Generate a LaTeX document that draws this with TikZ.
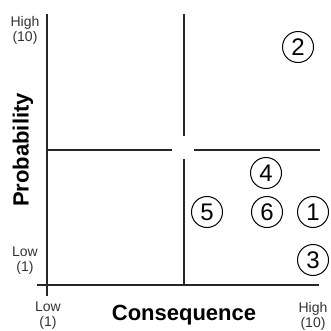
\documentclass[tikz,border=0pt]{standalone}
\usepackage{fontspec}
\setmainfont{Liberation Sans}
\usetikzlibrary{positioning}

\begin{document}
\begin{tikzpicture}[x=1pt, y=-1pt,
  axis/.style={line width=1.6pt, draw=black!85},
  divider/.style={line width=1.3pt, draw=black!85},
  risk/.style={draw, circle, line width=1pt, minimum size=31pt, inner sep=0pt, font=\fontsize{24}{24}\selectfont},
  level/.style={font=\fontsize{14}{15}\selectfont, align=center, text=black!80},
  heading/.style={font=\fontsize{22}{22}\selectfont\bfseries},
]
  \useasboundingbox (0,0) rectangle (331,330);

  % axes
  \coordinate (ytop) at (47,14);
  \coordinate (ybot) at (47,296);
  \coordinate (xleft) at (37,285);
  \coordinate (xright) at (319,285);
  \draw[axis] (ytop) -- (ybot);
  \draw[axis] (xleft) -- (xright);

  % quadrant dividers, broken at the centre
  \coordinate (vtop) at (184,14);
  \coordinate (vgap1) at (184,136);
  \coordinate (vgap2) at (184,159);
  \coordinate (vbot) at (184,285);
  \coordinate (hleft) at (47,150);
  \coordinate (hgap1) at (172,150);
  \coordinate (hgap2) at (194,150);
  \coordinate (hright) at (320,150);
  \draw[divider] (vtop) -- (vgap1);
  \draw[divider] (vgap2) -- (vbot);
  \draw[divider] (hleft) -- (hgap1);
  \draw[divider] (hgap2) -- (hright);

  % scale labels
  \node[level] (yhigh) at (25,30) {High\\(10)};
  \node[level] (ylow) at (25,261) {Low\\(1)};
  \node[level] (xlow) at (48,316) {Low\\(1)};
  \node[level] (xhigh) at (313,316) {High\\(10)};

  \node[heading] (xtitle) at (184,315) {Consequence};
  \node[heading, rotate=90] (ytitle) at (23,150) {Probability};

  % risks
  \node[risk] (r2) at (298,47) {2};
  \node[risk] (r4) at (266,173) {4};
  \node[risk] (r5) at (207,212) {5};
  \node[risk] (r6) at (267,212) {6};
  \node[risk] (r1) at (313,212) {1};
  \node[risk] (r3) at (313,260) {3};
\end{tikzpicture}
\end{document}
